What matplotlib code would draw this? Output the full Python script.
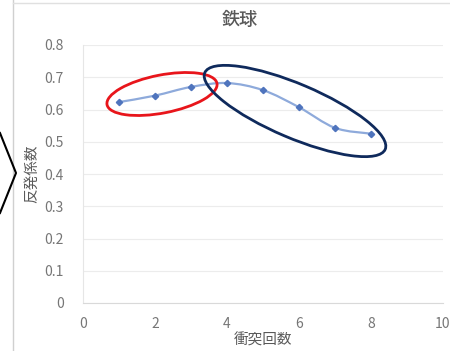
import numpy as np
import matplotlib
matplotlib.use("Agg")
import matplotlib.pyplot as plt
from matplotlib.path import Path
from matplotlib.patches import PathPatch, Ellipse
from matplotlib.lines import Line2D
from matplotlib.transforms import Affine2D

plt.rcParams['font.family'] = ['Noto Sans CJK JP', 'DejaVu Sans']

collisions = [1, 2, 3, 4, 5, 6, 7, 8]
restitution = [0.623, 0.643, 0.670, 0.682, 0.660, 0.607, 0.543, 0.525]
x_ticks = [0, 2, 4, 6, 8, 10]
y_ticks = [0, 0.1, 0.2, 0.3, 0.4, 0.5, 0.6, 0.7, 0.8]

W, H = 450, 351
fig = plt.figure(figsize=(W / 100, H / 100), dpi=100)
ax = fig.add_axes([83 / W, 48 / H, 360 / W, 258 / H])
ax.set_xlim(0, 10)
ax.set_ylim(0, 0.8)

# smoothed line through the points (Catmull-Rom as cubic Bezier segments)
xs = np.array(collisions, float)
ys = np.array(restitution, float)
verts = [(xs[0], ys[0])]
codes = [Path.MOVETO]
n = len(xs)
for i in range(n - 1):
    p0 = np.array([xs[max(i - 1, 0)], ys[max(i - 1, 0)]])
    p1 = np.array([xs[i], ys[i]])
    p2 = np.array([xs[i + 1], ys[i + 1]])
    p3 = np.array([xs[min(i + 2, n - 1)], ys[min(i + 2, n - 1)]])
    c1 = p1 + (p2 - p0) / 6
    c2 = p2 - (p3 - p1) / 6
    verts += [tuple(c1), tuple(c2), tuple(p2)]
    codes += [Path.CURVE4] * 3
ax.add_patch(PathPatch(Path(verts, codes), fill=False, edgecolor='#8eaadb',
                       lw=1.6, zorder=3))
ax.plot(collisions, restitution, ls='none', marker='D', ms=3.2,
        color='#4f74bd', zorder=4)

ax.set_xticks(x_ticks)
ax.set_yticks(y_ticks)
ax.set_yticklabels(['0'] + [f'{v:.1f}' for v in y_ticks[1:]])
ax.tick_params(length=0, labelsize=10, colors='#767676')
ax.tick_params(axis='y', pad=14)
ax.tick_params(axis='x', pad=10)
ax.grid(axis='y', color='#ececec', lw=0.8)
for s in ['top', 'right']:
    ax.spines[s].set_visible(False)
ax.spines['left'].set_color('#e6e6e6')
ax.spines['bottom'].set_color('#d9d9d9')
ax.set_axisbelow(True)

ax.set_xlabel('衝突回数', fontsize=10.5, color='#595959', labelpad=2)
ax.set_ylabel('反発係数', fontsize=10.5, color='#595959', labelpad=4)
fig.text(240 / W, 1 - 20 / H, '鉄球', fontsize=13, color='#595959',
         ha='center', va='center', fontweight='medium')


def pix_ellipse(cx, cy, w, h, ang, color):
    """Ellipse given in pixel units measured from the top-left corner."""
    t = Affine2D().scale(1 / W, 1 / H) + fig.transFigure
    e = Ellipse((cx, H - cy), w, h, angle=ang, fill=False, edgecolor=color,
                lw=2.0, transform=t, zorder=10)
    fig.add_artist(e)


pix_ellipse(162, 94, 112, 38, 11, '#e8151b')
pix_ellipse(295, 111, 196, 54, -23, '#0f2a5c')

# frame lines and chevron at the left
fig.add_artist(Line2D([13 / W, 13 / W], [0, 1], color='#d0d0d0', lw=1,
                      transform=fig.transFigure))
fig.add_artist(Line2D([13 / W, 1], [1 - 3 / H, 1 - 3 / H], color='#e0e0e0',
                      lw=1, transform=fig.transFigure))
fig.add_artist(Line2D([0, 16 / W, 0], [1 - 133 / H, 1 - 173 / H, 1 - 213 / H],
                      color='black', lw=1.5, transform=fig.transFigure))

fig.savefig('out.png', dpi=100)
